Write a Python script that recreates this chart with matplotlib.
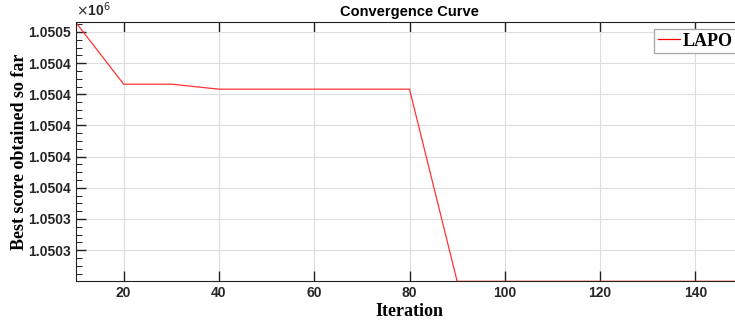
import matplotlib
matplotlib.use("Agg")
import matplotlib.pyplot as plt
from matplotlib.ticker import FuncFormatter, MultipleLocator

# convergence data (sampled every 10 iterations)
iterations = [10, 20, 30, 40, 50, 60, 70, 80, 90, 100, 110, 120, 130, 140, 150]
best_score = [1050466, 1050426.5, 1050426.5, 1050423.3, 1050423.3, 1050423.3,
              1050423.3, 1050423.3, 1050300, 1050300, 1050300, 1050300,
              1050300, 1050300, 1050300]
x_ticks = [20, 40, 60, 80, 100, 120, 140]
y_ticks = [1050320, 1050340, 1050360, 1050380, 1050400, 1050420, 1050440, 1050460]

fig = plt.figure(figsize=(7.35, 3.27), dpi=100)
ax = fig.add_axes([76 / 735, 1 - 281.3 / 327, (743 - 76) / 735, (281.3 - 22) / 327])

ax.plot(iterations, best_score, color="#ff3333", lw=0.9, label="LAPO")

ax.set_xlim(10, 150)
ax.set_ylim(1050300, 1050466.4)
ax.set_xticks(x_ticks)
ax.set_yticks(y_ticks)
ax.yaxis.set_minor_locator(MultipleLocator(5))
ax.yaxis.set_major_formatter(FuncFormatter(lambda v, p: "%.4f" % (v / 1e6)))
ax.grid(True, color="#dddddd", lw=0.8)
ax.set_axisbelow(True)

ax.tick_params(direction="in", top=True, right=False, labelsize=10, width=1.0,
               colors="#222222", labelcolor="#262626")
ax.tick_params(which="major", length=7)
ax.tick_params(which="minor", direction="in", length=4, left=True)
for lbl in ax.get_xticklabels() + ax.get_yticklabels():
    lbl.set_fontweight("bold")
    lbl.set_family("Liberation Sans")
for s in ax.spines.values():
    s.set_color("#222222")
ax.spines["right"].set_visible(False)

ax.text(0.0, 1.01, r"$\times$10$^{6}$", transform=ax.transAxes, fontsize=10,
        fontweight="bold", family="Liberation Sans", color="#262626",
        ha="left", va="bottom")

ax.set_title("Convergence Curve", fontsize=10.5, fontweight="bold",
             family="Liberation Sans", pad=4)
ax.set_xlabel("Iteration", fontsize=13, fontweight="bold",
              family="Liberation Serif", labelpad=2)
ax.set_ylabel("Best score obtained so far", fontsize=13, fontweight="bold",
              family="Liberation Serif", labelpad=0)

leg = ax.legend(loc="upper left", bbox_to_anchor=(0.8666, 0.973), borderaxespad=0,
                prop={"family": "Liberation Serif", "weight": "bold", "size": 13},
                fancybox=False, edgecolor="#aaaaaa", handlelength=1.25,
                handletextpad=0.15, borderpad=0.2, framealpha=1)
leg.get_lines()[0].set_color("red")
leg.get_frame().set_linewidth(1.0)

fig.savefig("out.png", dpi=100)
